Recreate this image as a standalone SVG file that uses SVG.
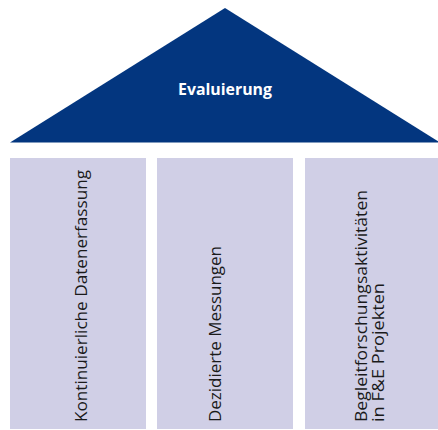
<svg xmlns="http://www.w3.org/2000/svg" width="438" height="430" viewBox="0 0 438 430">
  <style>
    .roof { fill: #03367f; }
    .pillar { fill: #d0cfe6; }
    .title { font-family: "Open Sans", "Liberation Sans", sans-serif; font-weight: bold; font-size: 15.5px; fill: #ffffff; text-anchor: middle; }
    .label { font-family: "Open Sans", "Liberation Sans", sans-serif; font-size: 16.5px; fill: #1a1a1a; text-anchor: start; }
  </style>
  <rect width="438" height="430" fill="#ffffff"/>
  <g id="roof">
    <polygon class="roof" points="225,8 440,142.5 10,142.5"/>
    <text class="title" x="225" y="95" textLength="94" lengthAdjust="spacingAndGlyphs">Evaluierung</text>
  </g>
  <g id="pillar1">
    <rect class="pillar" x="10" y="158" width="136" height="271"/>
    <text class="label" transform="translate(87,422) rotate(-90)" textLength="252" lengthAdjust="spacingAndGlyphs">Kontinuierliche Datenerfassung</text>
  </g>
  <g id="pillar2">
    <rect class="pillar" x="157" y="158" width="136" height="271"/>
    <text class="label" transform="translate(221,422) rotate(-90)" textLength="176" lengthAdjust="spacingAndGlyphs">Dezidierte Messungen</text>
  </g>
  <g id="pillar3">
    <rect class="pillar" x="305" y="158" width="136" height="271"/>
    <text class="label" transform="translate(367,422) rotate(-90)" textLength="232" lengthAdjust="spacingAndGlyphs">Begleitforschungsaktivitäten</text>
    <text class="label" transform="translate(384,422) rotate(-90)" textLength="139" lengthAdjust="spacingAndGlyphs">in F&amp;E Projekten</text>
  </g>
  <g id="connectors"/>
</svg>
